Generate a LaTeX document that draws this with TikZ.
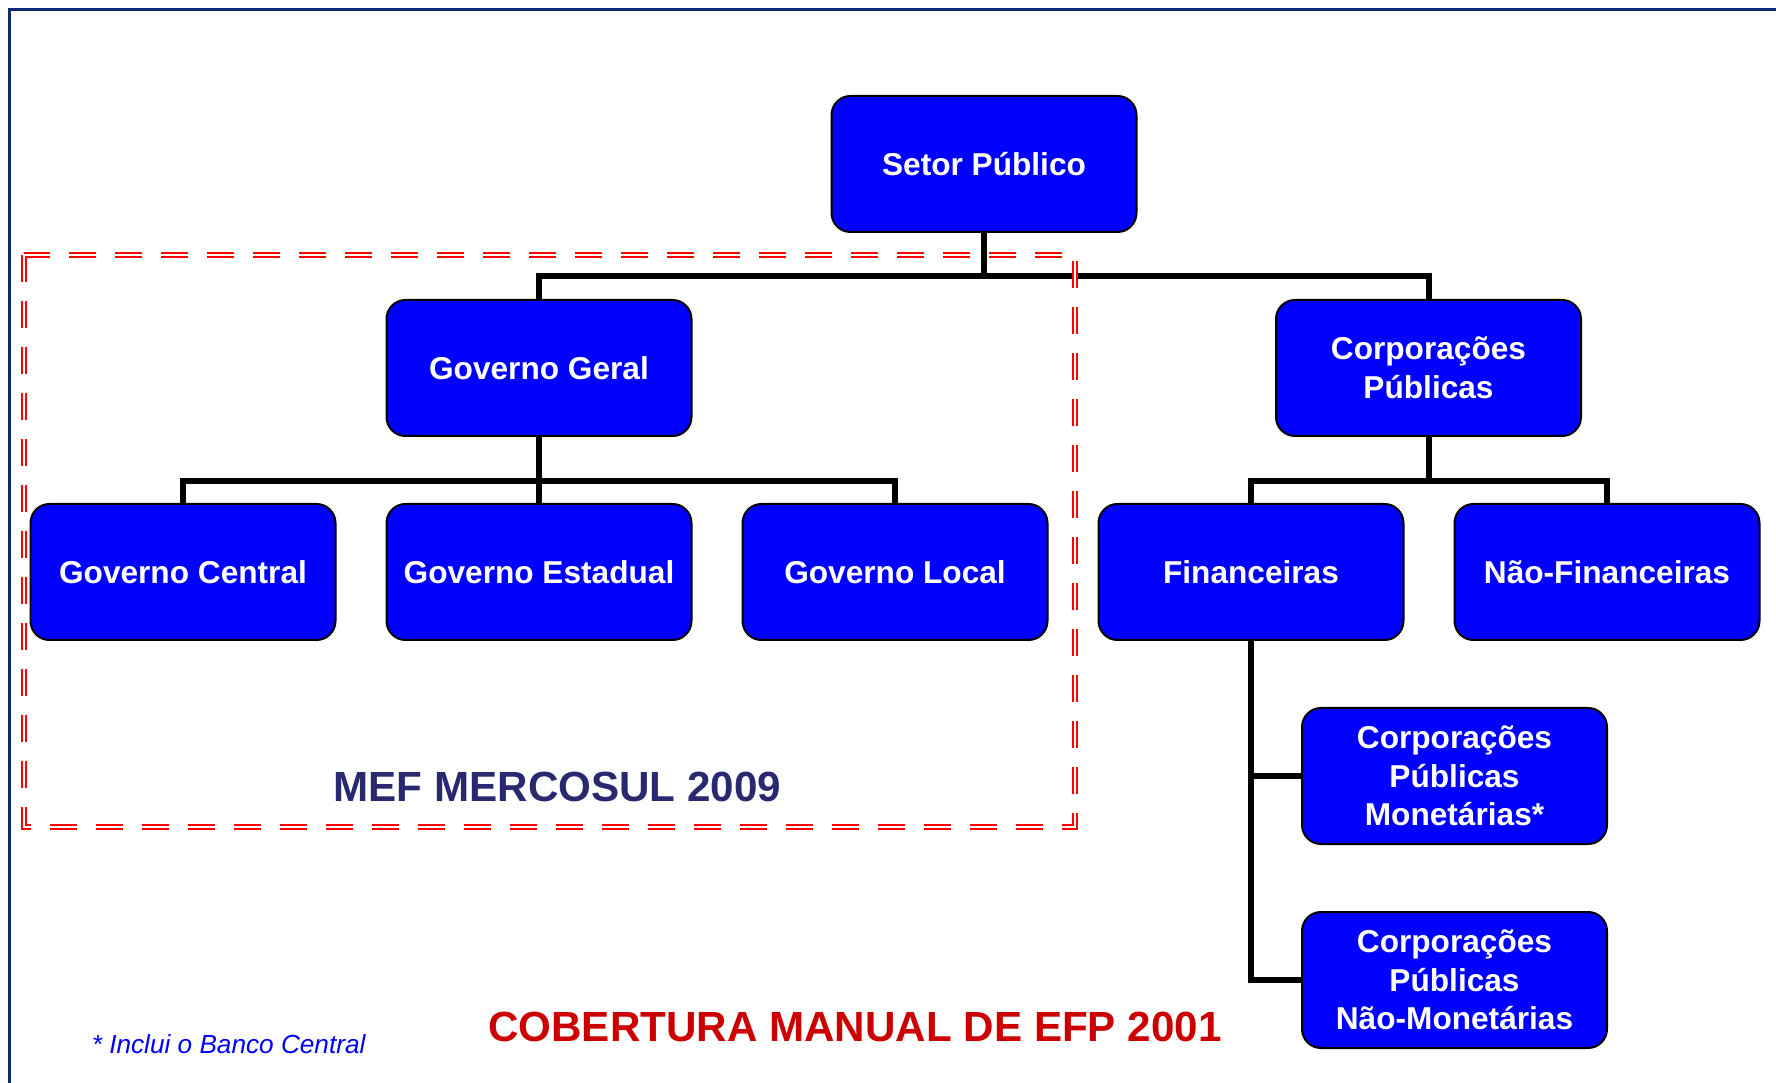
\documentclass[tikz,border=0pt]{standalone}
\usepackage{fontspec}
\setmainfont{Liberation Sans}
\usepackage{tikz}
\usetikzlibrary{positioning}

\definecolor{azulcaixa}{RGB}{0,0,255}
\definecolor{moldura}{RGB}{16,40,110}
\definecolor{azulmef}{RGB}{41,41,112}
\definecolor{vermelho}{RGB}{204,0,0}

\tikzset{
  unidade/.style={draw=black, line width=0.04cm, fill=azulcaixa, rounded corners=0.38cm,
    minimum width=6.1cm, minimum height=2.72cm, inner sep=0pt, align=center,
    text=white, font=\fontsize{18}{22}\selectfont\bfseries},
  ramo/.style={draw=black, line width=0.12cm},
  tracejado/.style={draw=red, line width=0.04cm, double=white, double distance=0.05cm,
    dash pattern=on 0.54cm off 0.38cm}
}

\begin{document}
\begin{tikzpicture}[node distance=4.08cm]
        \useasboundingbox (0,0) rectangle (35.52,-21.66);
        % Moldura
        \draw [moldura, line width=0.05cm] (0.19,-21.66) -- (0.19,-0.19) -- (35.52,-0.19);

        % Nodes
        \node (setor) [unidade] at (19.68,-3.28) {Setor Público};
        \node (geral) [unidade] at (10.78,-7.36) {Governo Geral};
        \node (corp) [unidade] at (28.57,-7.36) {Corporações\\Públicas};
        \node (estadual) [unidade, below of=geral] {Governo Estadual};
        \node (central) [unidade, left of=estadual, node distance=7.12cm] {Governo Central};
        \node (local) [unidade, right of=estadual, node distance=7.12cm] {Governo Local};
        \node (financ) [unidade, right of=local, node distance=7.12cm] {Financeiras};
        \node (naofin) [unidade, right of=financ, node distance=7.12cm] {Não-Financeiras};
        \node (monet) [unidade] at (29.09,-15.52) {Corporações\\Públicas\\Monetárias*};
        \node (naomonet) [unidade, below of=monet] {Corporações\\Públicas\\Não-Monetárias};

        \coordinate (barra1) at (19.68,-5.52);
        \coordinate (barra2) at (10.78,-9.62);
        \coordinate (barra3) at (28.57,-9.62);

        % Ligacoes
        \draw [ramo] (setor.south) -- (barra1);
        \draw [ramo] (geral.north) |- (barra1) -| (corp.north);
        \draw [ramo] (geral.south) -- (estadual.north);
        \draw [ramo] (central.north) |- (barra2) -| (local.north);
        \draw [ramo] (corp.south) -- (barra3);
        \draw [ramo] (financ.north) |- (barra3) -| (naofin.north);
        \draw [ramo] (financ.south) |- (naomonet.west);
        \draw [ramo] (financ.south |- monet.west) -- (monet.west);

        % Area MEF
        \draw [tracejado] (0.48,-5.10) rectangle (21.50,-16.54);
        \node (mef) [text=azulmef, font=\fontsize{24}{28}\selectfont\bfseries] at (11.15,-15.74) {MEF MERCOSUL 2009};

        % Textos
        \node (cobertura) [text=vermelho, font=\fontsize{24}{28}\selectfont\bfseries] at (17.10,-20.54) {COBERTURA MANUAL DE EFP 2001};
        \node (nota) [anchor=base west, inner sep=0pt, text=azulcaixa, font=\fontsize{14.9}{18}\selectfont\itshape] at (1.83,-21.06) {* Inclui o Banco Central};
\end{tikzpicture}
\end{document}
